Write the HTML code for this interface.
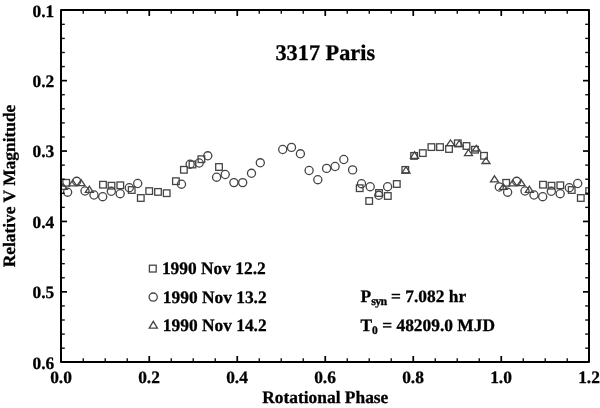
<!DOCTYPE html>
<html><head><meta charset="utf-8"><style>
html,body{margin:0;padding:0;background:#fff;}
body{width:600px;height:408px;overflow:hidden;}
svg{display:block;will-change:transform;}
text{font-family:"Liberation Serif",serif;font-weight:bold;fill:#000;stroke:#000;stroke-width:0.3;text-rendering:geometricPrecision;}
.mj{stroke:#000;stroke-width:1.7;}
.mn{stroke:#111;stroke-width:1.4;}
.mk{fill:none;stroke:#444;stroke-width:1.3;}
</style></head><body>
<svg width="600" height="408" viewBox="0 0 600 408">
<defs><clipPath id="cp"><rect x="62" y="11" width="526" height="350"/></clipPath></defs>
<g class="mk" clip-path="url(#cp)">
<rect x="62.9" y="179.5" width="6.6" height="6.6"/>
<rect x="99.7" y="181.4" width="6.6" height="6.6"/>
<rect x="108.2" y="182.4" width="6.6" height="6.6"/>
<rect x="117.0" y="182.0" width="6.6" height="6.6"/>
<rect x="128.4" y="186.7" width="6.6" height="6.6"/>
<rect x="137.5" y="194.7" width="6.6" height="6.6"/>
<rect x="145.9" y="187.8" width="6.6" height="6.6"/>
<rect x="154.7" y="188.6" width="6.6" height="6.6"/>
<rect x="163.4" y="189.9" width="6.6" height="6.6"/>
<rect x="172.6" y="177.9" width="6.6" height="6.6"/>
<rect x="180.6" y="166.5" width="6.6" height="6.6"/>
<rect x="189.2" y="161.2" width="6.6" height="6.6"/>
<rect x="198.1" y="155.9" width="6.6" height="6.6"/>
<rect x="215.7" y="163.7" width="6.6" height="6.6"/>
<rect x="356.4" y="184.9" width="6.6" height="6.6"/>
<rect x="365.9" y="197.7" width="6.6" height="6.6"/>
<rect x="375.7" y="189.7" width="6.6" height="6.6"/>
<rect x="384.5" y="192.7" width="6.6" height="6.6"/>
<rect x="393.5" y="180.7" width="6.6" height="6.6"/>
<rect x="402.0" y="166.6" width="6.6" height="6.6"/>
<rect x="410.8" y="152.6" width="6.6" height="6.6"/>
<rect x="419.5" y="149.8" width="6.6" height="6.6"/>
<rect x="428.1" y="143.8" width="6.6" height="6.6"/>
<rect x="436.7" y="143.8" width="6.6" height="6.6"/>
<rect x="445.7" y="145.7" width="6.6" height="6.6"/>
<rect x="454.5" y="140.0" width="6.6" height="6.6"/>
<rect x="463.2" y="142.7" width="6.6" height="6.6"/>
<rect x="471.7" y="146.4" width="6.6" height="6.6"/>
<rect x="480.7" y="152.5" width="6.6" height="6.6"/>
<rect x="502.9" y="179.5" width="6.6" height="6.6"/>
<rect x="539.7" y="181.4" width="6.6" height="6.6"/>
<rect x="548.2" y="182.4" width="6.6" height="6.6"/>
<rect x="557.0" y="182.0" width="6.6" height="6.6"/>
<rect x="568.4" y="186.7" width="6.6" height="6.6"/>
<rect x="577.5" y="194.7" width="6.6" height="6.6"/>
<rect x="585.9" y="187.8" width="6.6" height="6.6"/>
<circle cx="67.6" cy="192.2" r="4.05"/>
<circle cx="76.7" cy="181.3" r="4.05"/>
<circle cx="85.0" cy="191.0" r="4.05"/>
<circle cx="94.0" cy="195.0" r="4.05"/>
<circle cx="102.7" cy="196.7" r="4.05"/>
<circle cx="111.3" cy="191.3" r="4.05"/>
<circle cx="120.2" cy="193.7" r="4.05"/>
<circle cx="129.3" cy="187.7" r="4.05"/>
<circle cx="137.7" cy="183.5" r="4.05"/>
<circle cx="181.5" cy="184.2" r="4.05"/>
<circle cx="190.1" cy="164.2" r="4.05"/>
<circle cx="199.2" cy="163.0" r="4.05"/>
<circle cx="207.8" cy="155.8" r="4.05"/>
<circle cx="216.6" cy="177.2" r="4.05"/>
<circle cx="225.2" cy="174.5" r="4.05"/>
<circle cx="233.9" cy="182.6" r="4.05"/>
<circle cx="242.7" cy="182.6" r="4.05"/>
<circle cx="251.5" cy="173.3" r="4.05"/>
<circle cx="260.3" cy="162.8" r="4.05"/>
<circle cx="282.7" cy="149.5" r="4.05"/>
<circle cx="291.5" cy="147.4" r="4.05"/>
<circle cx="300.4" cy="153.8" r="4.05"/>
<circle cx="309.1" cy="170.5" r="4.05"/>
<circle cx="317.8" cy="179.7" r="4.05"/>
<circle cx="326.6" cy="168.4" r="4.05"/>
<circle cx="335.1" cy="166.5" r="4.05"/>
<circle cx="343.8" cy="159.5" r="4.05"/>
<circle cx="352.6" cy="169.9" r="4.05"/>
<circle cx="361.5" cy="183.7" r="4.05"/>
<circle cx="370.2" cy="186.7" r="4.05"/>
<circle cx="378.8" cy="195.3" r="4.05"/>
<circle cx="387.6" cy="186.7" r="4.05"/>
<circle cx="499.3" cy="187.0" r="4.05"/>
<circle cx="507.6" cy="192.2" r="4.05"/>
<circle cx="516.7" cy="181.3" r="4.05"/>
<circle cx="525.0" cy="191.0" r="4.05"/>
<circle cx="534.0" cy="195.0" r="4.05"/>
<circle cx="542.7" cy="196.7" r="4.05"/>
<circle cx="551.3" cy="191.3" r="4.05"/>
<circle cx="560.2" cy="193.7" r="4.05"/>
<circle cx="569.3" cy="187.7" r="4.05"/>
<circle cx="577.7" cy="183.5" r="4.05"/>
<path d="M63.3 184.0L67.3 189.3H59.3Z"/>
<path d="M72.8 180.0L76.8 185.9H68.8Z"/>
<path d="M81.1 179.7L85.1 185.7H77.1Z"/>
<path d="M89.3 186.2L93.3 192.3H85.3Z"/>
<path d="M406.0 166.7L410.0 173.0H402.0Z"/>
<path d="M414.5 151.7L418.5 158.3H410.5Z"/>
<path d="M450.6 140.0L454.6 145.7H446.6Z"/>
<path d="M459.2 140.5L463.2 146.5H455.2Z"/>
<path d="M468.5 149.5L472.5 155.7H464.5Z"/>
<path d="M476.3 145.3L480.3 151.0H472.3Z"/>
<path d="M486.0 157.7L490.0 163.5H482.0Z"/>
<path d="M494.5 175.8L498.5 181.9H490.5Z"/>
<path d="M503.3 184.0L507.3 189.3H499.3Z"/>
<path d="M512.8 180.0L516.8 185.9H508.8Z"/>
<path d="M521.1 179.7L525.1 185.7H517.1Z"/>
<path d="M529.3 186.2L533.3 192.3H525.3Z"/>
</g>
<line class="mn" x1="83.25" y1="362" x2="83.25" y2="358.2"/>
<line class="mn" x1="83.25" y1="10" x2="83.25" y2="13.8"/>
<line class="mn" x1="105.25" y1="362" x2="105.25" y2="358.2"/>
<line class="mn" x1="105.25" y1="10" x2="105.25" y2="13.8"/>
<line class="mn" x1="127.25" y1="362" x2="127.25" y2="358.2"/>
<line class="mn" x1="127.25" y1="10" x2="127.25" y2="13.8"/>
<line class="mj" x1="149.25" y1="362" x2="149.25" y2="356"/>
<line class="mj" x1="149.25" y1="10" x2="149.25" y2="16"/>
<line class="mn" x1="171.25" y1="362" x2="171.25" y2="358.2"/>
<line class="mn" x1="171.25" y1="10" x2="171.25" y2="13.8"/>
<line class="mn" x1="193.25" y1="362" x2="193.25" y2="358.2"/>
<line class="mn" x1="193.25" y1="10" x2="193.25" y2="13.8"/>
<line class="mn" x1="215.25" y1="362" x2="215.25" y2="358.2"/>
<line class="mn" x1="215.25" y1="10" x2="215.25" y2="13.8"/>
<line class="mj" x1="237.25" y1="362" x2="237.25" y2="356"/>
<line class="mj" x1="237.25" y1="10" x2="237.25" y2="16"/>
<line class="mn" x1="259.25" y1="362" x2="259.25" y2="358.2"/>
<line class="mn" x1="259.25" y1="10" x2="259.25" y2="13.8"/>
<line class="mn" x1="281.25" y1="362" x2="281.25" y2="358.2"/>
<line class="mn" x1="281.25" y1="10" x2="281.25" y2="13.8"/>
<line class="mn" x1="303.25" y1="362" x2="303.25" y2="358.2"/>
<line class="mn" x1="303.25" y1="10" x2="303.25" y2="13.8"/>
<line class="mj" x1="325.25" y1="362" x2="325.25" y2="356"/>
<line class="mj" x1="325.25" y1="10" x2="325.25" y2="16"/>
<line class="mn" x1="347.25" y1="362" x2="347.25" y2="358.2"/>
<line class="mn" x1="347.25" y1="10" x2="347.25" y2="13.8"/>
<line class="mn" x1="369.25" y1="362" x2="369.25" y2="358.2"/>
<line class="mn" x1="369.25" y1="10" x2="369.25" y2="13.8"/>
<line class="mn" x1="391.25" y1="362" x2="391.25" y2="358.2"/>
<line class="mn" x1="391.25" y1="10" x2="391.25" y2="13.8"/>
<line class="mj" x1="413.25" y1="362" x2="413.25" y2="356"/>
<line class="mj" x1="413.25" y1="10" x2="413.25" y2="16"/>
<line class="mn" x1="435.25" y1="362" x2="435.25" y2="358.2"/>
<line class="mn" x1="435.25" y1="10" x2="435.25" y2="13.8"/>
<line class="mn" x1="457.25" y1="362" x2="457.25" y2="358.2"/>
<line class="mn" x1="457.25" y1="10" x2="457.25" y2="13.8"/>
<line class="mn" x1="479.25" y1="362" x2="479.25" y2="358.2"/>
<line class="mn" x1="479.25" y1="10" x2="479.25" y2="13.8"/>
<line class="mj" x1="501.25" y1="362" x2="501.25" y2="356"/>
<line class="mj" x1="501.25" y1="10" x2="501.25" y2="16"/>
<line class="mn" x1="523.25" y1="362" x2="523.25" y2="358.2"/>
<line class="mn" x1="523.25" y1="10" x2="523.25" y2="13.8"/>
<line class="mn" x1="545.25" y1="362" x2="545.25" y2="358.2"/>
<line class="mn" x1="545.25" y1="10" x2="545.25" y2="13.8"/>
<line class="mn" x1="567.25" y1="362" x2="567.25" y2="358.2"/>
<line class="mn" x1="567.25" y1="10" x2="567.25" y2="13.8"/>
<line class="mn" x1="61" y1="24.33" x2="64.8" y2="24.33"/>
<line class="mn" x1="589" y1="24.33" x2="585.2" y2="24.33"/>
<line class="mn" x1="61" y1="38.41" x2="64.8" y2="38.41"/>
<line class="mn" x1="589" y1="38.41" x2="585.2" y2="38.41"/>
<line class="mn" x1="61" y1="52.49" x2="64.8" y2="52.49"/>
<line class="mn" x1="589" y1="52.49" x2="585.2" y2="52.49"/>
<line class="mn" x1="61" y1="66.57" x2="64.8" y2="66.57"/>
<line class="mn" x1="589" y1="66.57" x2="585.2" y2="66.57"/>
<line class="mj" x1="61" y1="80.65" x2="67" y2="80.65"/>
<line class="mj" x1="589" y1="80.65" x2="583" y2="80.65"/>
<line class="mn" x1="61" y1="94.73" x2="64.8" y2="94.73"/>
<line class="mn" x1="589" y1="94.73" x2="585.2" y2="94.73"/>
<line class="mn" x1="61" y1="108.81" x2="64.8" y2="108.81"/>
<line class="mn" x1="589" y1="108.81" x2="585.2" y2="108.81"/>
<line class="mn" x1="61" y1="122.89" x2="64.8" y2="122.89"/>
<line class="mn" x1="589" y1="122.89" x2="585.2" y2="122.89"/>
<line class="mn" x1="61" y1="136.97" x2="64.8" y2="136.97"/>
<line class="mn" x1="589" y1="136.97" x2="585.2" y2="136.97"/>
<line class="mj" x1="61" y1="151.05" x2="67" y2="151.05"/>
<line class="mj" x1="589" y1="151.05" x2="583" y2="151.05"/>
<line class="mn" x1="61" y1="165.13" x2="64.8" y2="165.13"/>
<line class="mn" x1="589" y1="165.13" x2="585.2" y2="165.13"/>
<line class="mn" x1="61" y1="179.21" x2="64.8" y2="179.21"/>
<line class="mn" x1="589" y1="179.21" x2="585.2" y2="179.21"/>
<line class="mn" x1="61" y1="193.29" x2="64.8" y2="193.29"/>
<line class="mn" x1="589" y1="193.29" x2="585.2" y2="193.29"/>
<line class="mn" x1="61" y1="207.37" x2="64.8" y2="207.37"/>
<line class="mn" x1="589" y1="207.37" x2="585.2" y2="207.37"/>
<line class="mj" x1="61" y1="221.45" x2="67" y2="221.45"/>
<line class="mj" x1="589" y1="221.45" x2="583" y2="221.45"/>
<line class="mn" x1="61" y1="235.53" x2="64.8" y2="235.53"/>
<line class="mn" x1="589" y1="235.53" x2="585.2" y2="235.53"/>
<line class="mn" x1="61" y1="249.61" x2="64.8" y2="249.61"/>
<line class="mn" x1="589" y1="249.61" x2="585.2" y2="249.61"/>
<line class="mn" x1="61" y1="263.69" x2="64.8" y2="263.69"/>
<line class="mn" x1="589" y1="263.69" x2="585.2" y2="263.69"/>
<line class="mn" x1="61" y1="277.77" x2="64.8" y2="277.77"/>
<line class="mn" x1="589" y1="277.77" x2="585.2" y2="277.77"/>
<line class="mj" x1="61" y1="291.85" x2="67" y2="291.85"/>
<line class="mj" x1="589" y1="291.85" x2="583" y2="291.85"/>
<line class="mn" x1="61" y1="305.93" x2="64.8" y2="305.93"/>
<line class="mn" x1="589" y1="305.93" x2="585.2" y2="305.93"/>
<line class="mn" x1="61" y1="320.01" x2="64.8" y2="320.01"/>
<line class="mn" x1="589" y1="320.01" x2="585.2" y2="320.01"/>
<line class="mn" x1="61" y1="334.09" x2="64.8" y2="334.09"/>
<line class="mn" x1="589" y1="334.09" x2="585.2" y2="334.09"/>
<line class="mn" x1="61" y1="348.17" x2="64.8" y2="348.17"/>
<line class="mn" x1="589" y1="348.17" x2="585.2" y2="348.17"/>
<rect x="61" y="10" width="528" height="352" fill="none" stroke="#000" stroke-width="2" stroke-linejoin="round"/>
<g font-size="17.4">
<text x="61.0" y="383.2" text-anchor="middle">0.0</text><text x="149.0" y="383.2" text-anchor="middle">0.2</text><text x="237.0" y="383.2" text-anchor="middle">0.4</text><text x="325.0" y="383.2" text-anchor="middle">0.6</text><text x="413.0" y="383.2" text-anchor="middle">0.8</text><text x="501.0" y="383.2" text-anchor="middle">1.0</text><text x="589.0" y="383.2" text-anchor="middle">1.2</text>
<text x="54.3" y="16.6" text-anchor="end">0.1</text><text x="54.3" y="87.0" text-anchor="end">0.2</text><text x="54.3" y="157.4" text-anchor="end">0.3</text><text x="54.3" y="227.8" text-anchor="end">0.4</text><text x="54.3" y="298.2" text-anchor="end">0.5</text><text x="54.3" y="368.6" text-anchor="end">0.6</text>
</g>
<text x="325.3" y="403.3" font-size="17.4" text-anchor="middle">Rotational Phase</text>
<text transform="translate(15.3,186) rotate(-90)" font-size="17.4" text-anchor="middle">Relative V Magnitude</text>
<text x="325.3" y="60.3" font-size="22.3" text-anchor="middle">3317 Paris</text>
<g class="mk">
<rect x="149.4" y="265.2" width="6.8" height="6.8"/>
<circle cx="153.2" cy="297.1" r="4.1"/>
<path d="M153.3 321.3L157.4 328.2H149.2Z"/>
</g>
<g font-size="17.4">
<text x="161.9" y="274.2">1990 Nov 12.2</text>
<text x="162.8" y="302.5">1990 Nov 13.2</text>
<text x="162.8" y="330.8">1990 Nov 14.2</text>
<text x="360.5" y="302.3">P<tspan font-size="12" dy="2.6" letter-spacing="-0.6">syn</tspan><tspan dy="-2.6"> = 7.082 hr</tspan></text>
<text x="360.5" y="330.6">T<tspan font-size="11.5" dy="3.1">0</tspan><tspan dy="-3.1"> = 48209.0 MJD</tspan></text>
</g>
</svg>
</body></html>
